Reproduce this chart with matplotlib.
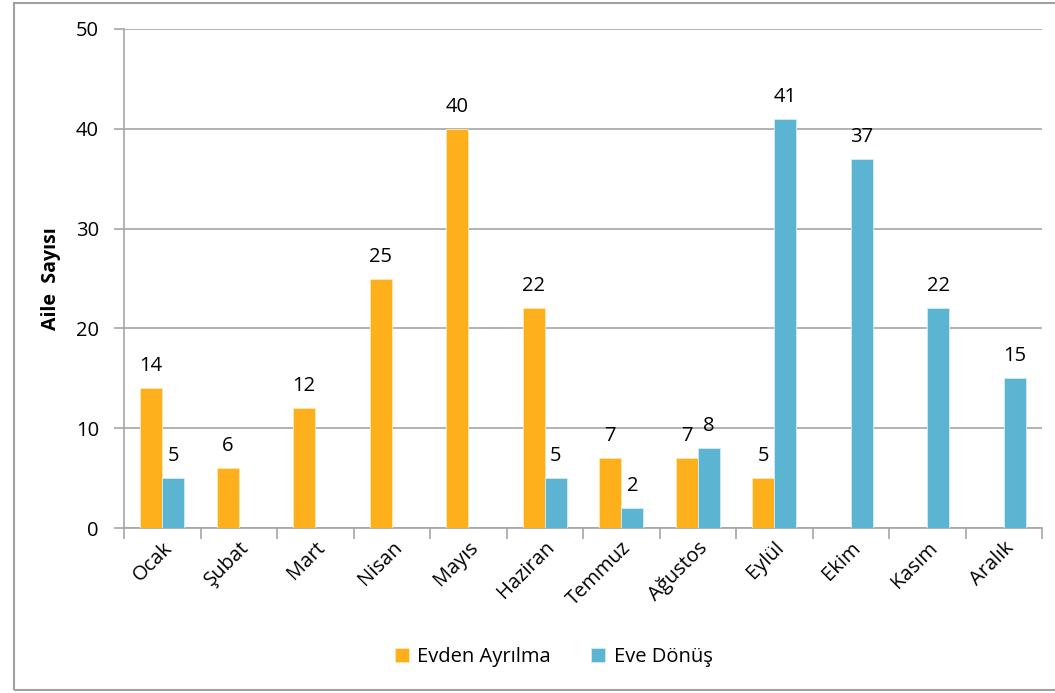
import matplotlib.pyplot as plt
import numpy as np
from matplotlib.patches import Rectangle

months = ['Ocak', 'Şubat', 'Mart', 'Nisan', 'Mayıs', 'Haziran',
          'Temmuz', 'Ağustos', 'Eylül', 'Ekim', 'Kasım', 'Aralık']
leaving = [14, 6, 12, 25, 40, 22, 7, 7, 5, 0, 0, 0]
returning = [5, 0, 0, 0, 0, 5, 2, 8, 41, 37, 22, 15]

plt.rcParams['font.family'] = ['Open Sans', 'DejaVu Sans']

orange = '#FDAF1C'
blue = '#5CB4D3'
grid_col = '#A6A6A6'
fs = 14.5

fig = plt.figure(figsize=(10.55, 6.93), dpi=100)
ax = fig.add_axes([124 / 1055, 1 - 528 / 693, (1042 - 124) / 1055, (528 - 29) / 693])

# outer chart border
fig.patches.append(Rectangle((14 / 1055, 3 / 693), 1.1, 687 / 693, transform=fig.transFigure,
                             fill=False, edgecolor='#A0A0A0', linewidth=1.5))

x = np.arange(len(months))
w = 0.29
b1 = ax.bar(x - w / 2, leaving, w, color=orange, edgecolor='#FFE9B0', linewidth=0.6,
            label='Evden Ayrılma', zorder=3)
b2 = ax.bar(x + w / 2, returning, w, color=blue, edgecolor='#D5ECF5', linewidth=0.6,
            label='Eve Dönüş', zorder=3)

for bars, vals in ((b1, leaving), (b2, returning)):
    for r, v in zip(bars, vals):
        if v > 0:
            ax.text(r.get_x() + r.get_width() / 2, v + 1.2, str(v), ha='center',
                    va='bottom', fontsize=fs)

ax.set_xlim(-0.5, len(months) - 0.5)
ax.set_ylim(0, 50)
ax.set_yticks(range(0, 51, 10))
ax.yaxis.grid(True, color=grid_col, linewidth=1.2, zorder=0)
ax.set_axisbelow(True)

ax.set_xticks(np.arange(-0.5, len(months), 1))
ax.set_xticklabels([])
ax.set_xticks(x, minor=True)
ax.set_xticklabels(months, minor=True, rotation=45, ha='right', rotation_mode='anchor',
                   fontsize=fs)
ax.tick_params(axis='x', which='minor', length=0, pad=7)
ax.tick_params(axis='x', which='major', length=8, color=grid_col, width=1.2, direction='out')
ax.tick_params(axis='y', length=7, color=grid_col, width=1.2, labelsize=fs, pad=11)

for s in ('top', 'right'):
    ax.spines[s].set_visible(False)
for s in ('left', 'bottom'):
    ax.spines[s].set_color(grid_col)
    ax.spines[s].set_linewidth(1.2)

ax.set_ylabel('Aile  Sayısı', fontsize=14, fontweight='bold', labelpad=11)

fig.legend(handles=[b1, b2], loc='center', bbox_to_anchor=(0.525, 1 - 657 / 693),
           ncol=2, frameon=False, fontsize=fs, handlelength=0.7, handleheight=0.7,
           columnspacing=2.0, handletextpad=0.4)

fig.savefig('out.png', dpi=100)
